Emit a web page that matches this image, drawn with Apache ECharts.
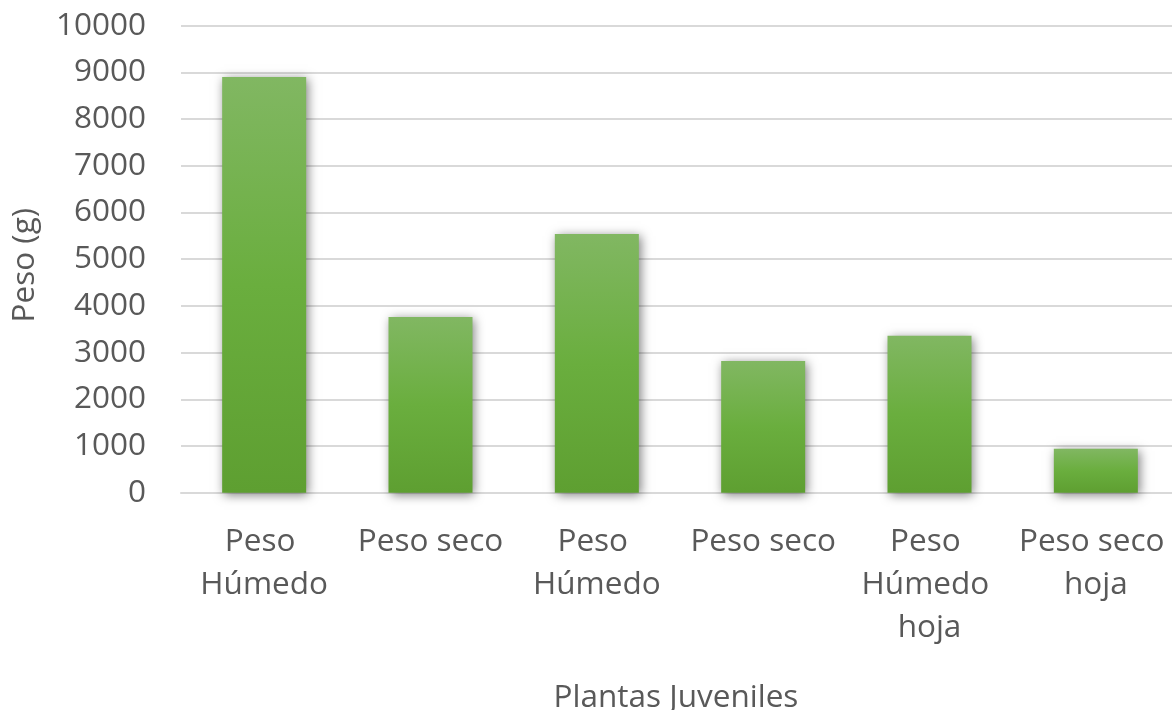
<!DOCTYPE html>
<html>
<head>
<meta charset="utf-8">
<script src="https://cdn.jsdelivr.net/npm/echarts@6/dist/echarts.min.js"></script>
<style>
  html, body { margin: 0; padding: 0; background: #ffffff; }
  #chart { width: 1172px; height: 710px; }
</style>
</head>
<body>
<div id="chart"></div>
<script>
// Weights of juvenile plants, grams
const categories = ['Peso Húmedo', 'Peso seco', 'Peso Húmedo', 'Peso seco', 'Peso Húmedo hoja', 'Peso seco hoja'];
const weights = [8900, 3760, 5540, 2820, 3360, 940];
const yTicks = { min: 0, max: 10000, interval: 1000 };

const chart = echarts.init(document.getElementById('chart'), null, { renderer: 'canvas' });
const font = '"Open Sans", "Noto Sans", sans-serif';
const textColor = '#595959';
const fontSize = 31.5;

chart.setOption({
  animation: false,
  backgroundColor: '#ffffff',
  // plot area runs slightly past the right edge of the canvas
  grid: { left: 181, width: 998, top: 25.7, bottom: 217.3, containLabel: false, outerBoundsMode: 'none' },
  xAxis: {
    type: 'category',
    data: categories,
    name: 'Plantas Juveniles',
    nameLocation: 'middle',
    nameGap: 189,
    nameTextStyle: { fontFamily: font, fontSize: fontSize, color: textColor, padding: [0, 8, 0, 0] },
    axisLine: { lineStyle: { color: '#d9d9d9', width: 2 } },
    axisTick: { show: false },
    axisLabel: {
      interval: 0,
      margin: 28,
      fontFamily: font,
      fontSize: fontSize,
      color: textColor,
      lineHeight: 43,
      width: 162,
      overflow: 'break'
    }
  },
  yAxis: {
    type: 'value',
    min: yTicks.min,
    max: yTicks.max,
    interval: yTicks.interval,
    name: 'Peso (g)',
    nameLocation: 'middle',
    nameGap: 140,
    nameRotate: 90,
    nameTextStyle: { fontFamily: font, fontSize: fontSize, color: textColor, padding: [0, 0, 0, -12] },
    axisLine: { show: false },
    axisTick: { show: false },
    axisLabel: {
      margin: 35,
      fontFamily: font,
      fontSize: fontSize,
      color: textColor,
      formatter: v => String(v)
    },
    splitLine: { lineStyle: { color: '#d9d9d9', width: 2 } }
  },
  series: [{
    type: 'bar',
    data: weights,
    barWidth: '50.5%',
    itemStyle: {
      color: new echarts.graphic.LinearGradient(0, 0, 0, 1, [
        { offset: 0, color: '#81b762' },
        { offset: 0.5, color: '#6aae3e' },
        { offset: 1, color: '#5e9f31' }
      ]),
      shadowColor: 'rgba(0,0,0,0.5)',
      shadowBlur: 10,
      shadowOffsetX: 2,
      shadowOffsetY: 2
    }
  }]
});
</script>
</body>
</html>
